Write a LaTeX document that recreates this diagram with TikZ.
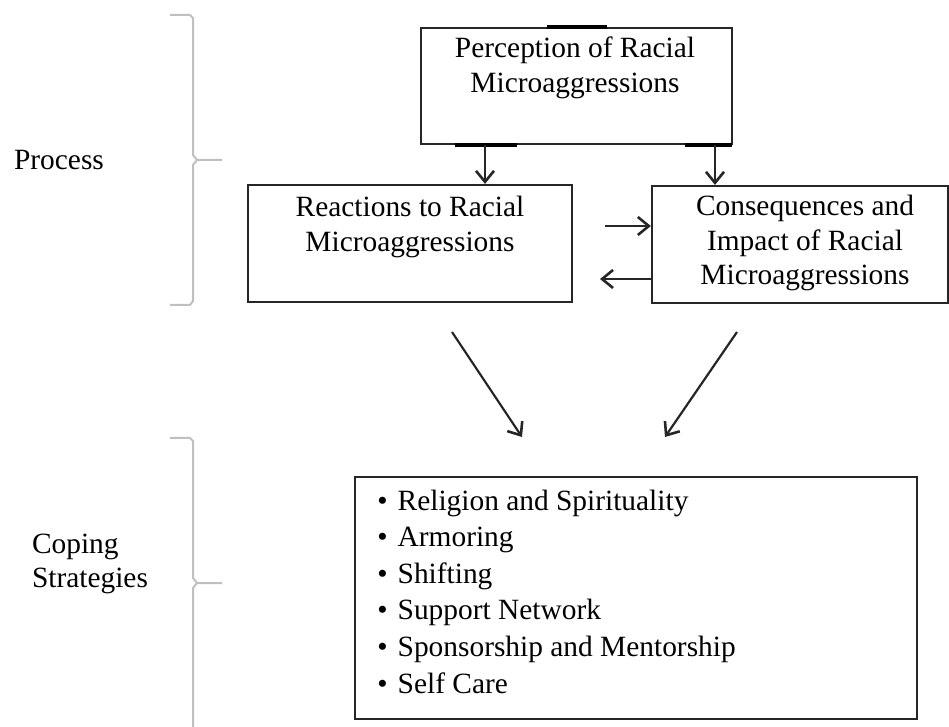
\documentclass[tikz,border=0pt]{standalone}
\usepackage{fontspec}
\setmainfont{Liberation Serif}
\usetikzlibrary{arrows.meta,positioning}
\tikzset{
  box/.style={draw=black!85, line width=1.1pt, rectangle, inner sep=0pt},
  txt/.style={align=center, font=\fontsize{14.7}{17.2}\selectfont, inner sep=0pt},
  arr/.style={draw=black!85, line width=1.1pt, -{Straight Barb[length=5.5pt,width=9pt,line width=1.3pt]}},
  brace/.style={draw=black!25, line width=1pt},
  smudge/.style={line width=2.2pt, black}
}

\begin{document}
\begin{tikzpicture}[x=0.5pt,y=-0.5pt]
  \useasboundingbox (0,0) rectangle (949,727);
  % boxes
  \node[box, minimum width=155.5pt, minimum height=58pt] (percep) at (576.5,86) {};
  \node[txt] (perceptxt) at (575,68) {Perception of Racial\\Microaggressions};
  \node[box, minimum width=162pt, minimum height=58.5pt] (react) at (410,243.5) {};
  \node[txt] (reacttxt) at (410,227) {Reactions to Racial\\Microaggressions};
  \node[box, minimum width=148pt, minimum height=58.5pt] (conseq) at (800,244.5) {};
  \node[txt] (conseqtxt) at (805,243) {Consequences and\\Impact of Racial\\Microaggressions};
  \node[box, minimum width=281pt, minimum height=121pt] (coping) at (636,598) {};
  \node[txt, align=left, anchor=west, font=\fontsize{14.7}{18.3}\selectfont] (copingtxt) at (377,591.5)
    {\textbullet\hspace{5pt}Religion and Spirituality\\
     \textbullet\hspace{5pt}Armoring\\
     \textbullet\hspace{5pt}Shifting\\
     \textbullet\hspace{5pt}Support Network\\
     \textbullet\hspace{5pt}Sponsorship and Mentorship\\
     \textbullet\hspace{5pt}Self Care};
  % heavier bits on the top box edges
  \draw[smudge] (547,27) -- (607,27);
  \draw[smudge] (455,145) -- (517,145);
  \draw[smudge] (685,145) -- (732,145);
  % side labels
  \node[txt] (process) at (59,160) {Process};
  \node[txt, align=left] (strat) at (90,564) {Coping\\Strategies};
  % braces
  \draw[brace] (170,15) -- (190,15) -- (193,18) -- (193,155) -- (197,160) -- (222,160);
  \draw[brace] (197,160) -- (193,165) -- (193,301) -- (190,305) -- (170,305);
  \draw[brace] (170,438) -- (190,438) -- (193,441) -- (193,578) -- (197,583) -- (222,583);
  \draw[brace] (197,583) -- (193,588) -- (193,727);
  % arrows
  \coordinate (c1) at (485,0);
  \coordinate (c2) at (715,0);
  \draw[arr] (percep.south -| c1) -- (react.north -| c1);
  \draw[arr] (percep.south -| c2) -- (conseq.north -| c2);
  \coordinate (r1) at (605,226);
  \coordinate (l1) at (600,279);
  \draw[arr] (r1) -- (conseq.west |- r1);
  \draw[arr] (conseq.west |- l1) -- (l1);
  \coordinate (d1) at (452,332);
  \coordinate (d2) at (522,437);
  \coordinate (d3) at (737,332);
  \coordinate (d4) at (665,437);
  \draw[arr] (d1) -- (d2);
  \draw[arr] (d3) -- (d4);
\end{tikzpicture}
\end{document}
